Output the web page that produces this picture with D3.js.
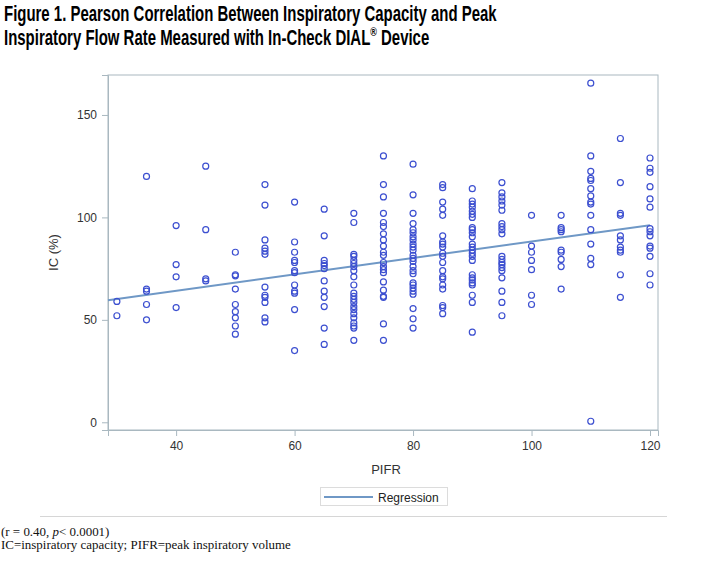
<!DOCTYPE html>
<html>
<head>
<meta charset="utf-8">
<script src="https://cdn.jsdelivr.net/npm/d3@7"></script>
<style>
  html, body { margin: 0; padding: 0; background: #fff; }
  svg { display: block; }
</style>
</head>
<body>
<svg id="chart" width="728" height="574"></svg>
<script>
// ---- Data ----
const pifrLevels = [30, 35, 40, 45, 50, 55, 60, 65, 70, 75, 80, 85, 90, 95, 100, 105, 110, 115, 120];
const ic30 = [59, 52];
const ic35 = [120, 65, 64, 57.5, 50];
const ic40 = [96, 77, 71, 56];
const ic45 = [125, 94, 70, 69];
const ic50 = [83, 72, 71.5, 65, 57.5, 54, 51, 47, 43];
const ic55 = [116, 106, 89, 85, 83.5, 82, 66, 62, 61, 58.5, 51, 49];
const ic60 = [107.5, 88, 83, 79, 78, 74, 73, 67, 64, 63, 55, 35];
const ic65 = [104, 91, 79, 77.5, 76.5, 75, 69, 64, 61, 56.5, 46, 38];
const ic70 = [102, 97.5, 82, 81, 79, 77.5, 76, 74, 71, 67, 63, 61.5, 60, 58.5, 56.5, 55, 53, 51, 48.5, 47, 46, 40];
const ic75 = [130, 116, 110, 102, 97.5, 95.5, 92, 89, 86, 83, 81.5, 78, 76, 74.5, 73, 68.5, 64.5, 61.5, 61, 48, 40];
const ic80 = [126, 111, 102, 97, 94, 92.5, 90.5, 89, 87, 85.5, 84, 81.5, 80, 78.5, 76, 74, 72.5, 68, 67, 65.5, 64, 62.5, 55.5, 50.5, 46];
const ic85 = [116, 114.5, 107.5, 104, 101, 91, 88, 87, 85.5, 82.5, 81, 78, 74, 71, 70, 67, 65, 57, 56, 53];
const ic90 = [114, 108, 106.5, 105, 103, 101.5, 100, 95, 94, 92.5, 90.5, 87, 85.5, 84, 82.5, 81, 79, 72, 70.5, 69.5, 68, 67, 62, 58.5, 44];
const ic95 = [117, 112, 110, 108, 106, 103.5, 97, 95.5, 94, 92, 81, 79.5, 78, 77, 75.5, 74, 70.5, 64, 58.5, 52];
const ic100 = [101, 86, 83, 79, 74.5, 62, 57.5];
const ic105 = [101, 95, 94, 93, 84, 83, 79.5, 76, 65];
const ic110 = [165.5, 130, 122.5, 119, 118, 114, 110.5, 107.5, 106.5, 101, 94, 87, 80, 77, 0.5];
const ic115 = [138.5, 117, 102, 101, 91, 89, 85.5, 84, 83, 72, 61];
const ic120 = [129, 124, 122, 115, 109, 105, 94.5, 93, 91, 86, 85, 81, 72.5, 67];
const icByLevel = [ic30, ic35, ic40, ic45, ic50, ic55, ic60, ic65, ic70, ic75, ic80, ic85, ic90, ic95, ic100, ic105, ic110, ic115, ic120];

const regressionX = [28.5, 120];
const regressionY = [59.6, 96.2];

const xTicks = [40, 60, 80, 100, 120];
const yTicks = [0, 50, 100, 150];
const xDomain = [28.5, 121.35];
const yDomain = [-3.76, 169.5];

const titleLine1 = "Figure 1. Pearson Correlation Between Inspiratory Capacity and Peak";
const titleLine2a = "Inspiratory Flow Rate Measured with In-Check DIAL";
const titleLine2b = " Device";
const xLabel = "PIFR";
const yLabel = "IC (%)";
const legendLabel = "Regression";
const note2 = "IC=inspiratory capacity; PIFR=peak inspiratory volume";

// ---- Layout ----
const plot = { left: 108, right: 658, top: 75, bottom: 430 };
const frameColor = "#a9b8c0";
const markerColor = "#3c4fd0";
const fitColor = "#6f98c6";
const sans = "'Liberation Sans', Arial, Helvetica, sans-serif";
const serif = "'Liberation Serif', 'Times New Roman', serif";

const svg = d3.select("#chart");

const points = [];
pifrLevels.forEach((lv, i) => icByLevel[i].forEach(v => points.push({ x: lv, y: v })));

const x = d3.scaleLinear().domain(xDomain).range([plot.left, plot.right]);
const y = d3.scaleLinear().domain(yDomain).range([plot.bottom, plot.top]);

// Title (condensed bold sans, as in the reference)
const titleSize = 22;
const title = svg.append("g").attr("font-family", sans).attr("font-weight", "bold").attr("fill", "#000");
const t1 = title.append("text").attr("x", 0).attr("y", 21.5).attr("font-size", titleSize).text(titleLine1);
const t2 = title.append("text").attr("x", 0).attr("y", 45.5).attr("font-size", titleSize);
t2.append("tspan").text(titleLine2a);
t2.append("tspan").attr("font-size", titleSize * 0.6).attr("dy", -9).text("®");
t2.append("tspan").attr("dy", 9).text(titleLine2b);
const w1 = t1.node().getComputedTextLength();
const sx = 493 / w1;
title.attr("transform", `translate(4,0) scale(${sx},1)`);

// Plot frame
svg.append("rect")
  .attr("x", plot.left).attr("y", plot.top)
  .attr("width", plot.right - plot.left).attr("height", plot.bottom - plot.top)
  .attr("fill", "#fff").attr("stroke", frameColor).attr("stroke-width", 1);

// Axes
const xAxis = svg.append("g")
  .attr("transform", `translate(0,${plot.bottom})`)
  .call(d3.axisBottom(x).tickValues(xTicks).tickSize(6).tickPadding(5).tickFormat(d3.format("d")));
const yAxis = svg.append("g")
  .attr("transform", `translate(${plot.left},0)`)
  .call(d3.axisLeft(y).tickValues(yTicks).tickSize(6).tickPadding(5).tickFormat(d3.format("d")));
[xAxis, yAxis].forEach(a => {
  a.select(".domain").attr("stroke", frameColor);
  a.selectAll(".tick line").attr("stroke", frameColor);
  a.selectAll(".tick text").attr("fill", "#333").attr("font-family", sans).attr("font-size", 12);
});

// Axis labels
svg.append("text")
  .attr("x", (plot.left + plot.right) / 2 + 3).attr("y", 474)
  .attr("text-anchor", "middle").attr("font-family", sans).attr("font-size", 13).attr("fill", "#333")
  .text(xLabel);
svg.append("text")
  .attr("transform", `translate(58,${(plot.top + plot.bottom) / 2}) rotate(-90)`)
  .attr("text-anchor", "middle").attr("font-family", sans).attr("font-size", 13).attr("fill", "#333")
  .text(yLabel);

// Regression line
const line = d3.line().x(d => x(d[0])).y(d => y(d[1]));
svg.append("path")
  .datum(regressionX.map((v, i) => [v, regressionY[i]]))
  .attr("d", line).attr("fill", "none").attr("stroke", fitColor).attr("stroke-width", 2);

// Points
svg.append("g").selectAll("circle").data(points).join("circle")
  .attr("cx", d => x(d.x)).attr("cy", d => y(d.y)).attr("r", 3)
  .attr("fill", "none").attr("stroke", markerColor).attr("stroke-width", 1.2);

// Legend
const lg = svg.append("g");
lg.append("rect").attr("x", 320.5).attr("y", 487.5).attr("width", 127).attr("height", 18)
  .attr("fill", "#fff").attr("stroke", "#dcdcdc");
lg.append("line").attr("x1", 324).attr("x2", 373).attr("y1", 497).attr("y2", 497)
  .attr("stroke", fitColor).attr("stroke-width", 2);
lg.append("text").attr("x", 378).attr("y", 501.5).attr("font-family", sans).attr("font-size", 12)
  .attr("fill", "#222").text(legendLabel);

// Separator
svg.append("line").attr("x1", 40).attr("x2", 667).attr("y1", 516.5).attr("y2", 516.5)
  .attr("stroke", "#d6d6d6").attr("stroke-width", 1);

// Footnotes
const fn = svg.append("g").attr("font-family", serif).attr("fill", "#111");
const n2 = fn.append("text").attr("x", 1).attr("y", 549).attr("font-size", 12).text(note2);
const wn = n2.node().getComputedTextLength();
const noteSize = 12 * 290 / wn;
n2.attr("font-size", noteSize);
const n1 = fn.append("text").attr("x", 1).attr("y", 535.5).attr("font-size", noteSize);
n1.append("tspan").text("(r = 0.40, ");
n1.append("tspan").attr("font-style", "italic").text("p");
n1.append("tspan").text("< 0.0001)");
</script>
</body>
</html>
